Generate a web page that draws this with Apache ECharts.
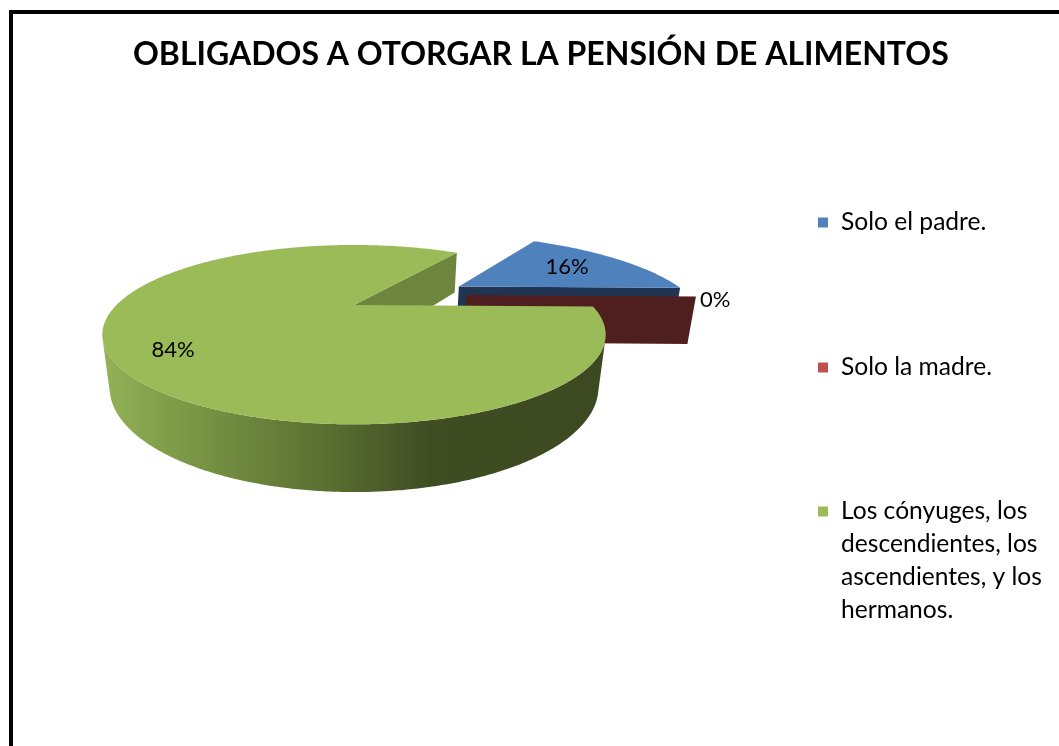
<!DOCTYPE html>
<html>
<head>
<meta charset="utf-8">
<script src="https://cdn.jsdelivr.net/npm/echarts@6/dist/echarts.min.js"></script>
<style>
html, body { margin: 0; padding: 0; background: #fff; }
#chart { width: 1059px; height: 746px; }
.frame { position: absolute; left: 9px; top: 10px; right: 0; bottom: 0;
         border-top: 4px solid #000; border-left: 4px solid #000; pointer-events: none; }
</style>
</head>
<body>
<div id="chart"></div>
<div class="frame"></div>
<script>
// --- data ---
var titleText = 'OBLIGADOS A OTORGAR LA PENSIÓN DE ALIMENTOS';
var categories = ['Solo el padre.', 'Solo la madre.', 'Los cónyuges, los descendientes, los ascendientes, y los hermanos.'];
var values = [16, 0, 84];
var legendLabels = ['Solo el padre.', 'Solo la madre.', 'Los cónyuges, los\ndescendientes, los\nascendientes, y los\nhermanos.'];

// --- styles ---
var legendColors = ['#4f81bd', '#c0504d', '#9bbb59'];
var topColors = ['#4f81bd', '#c0504d', '#9bbb59'];
var cutColors = ['#1f3552', '#4f1f1f', '#6e853e'];
var rimStops = [
    [[0, '#3b5f8c'], [1, '#2a4466']],
    [[0, '#7a2f2d'], [1, '#4f1f1f']],
    [[0, '#93b257'], [0.15, '#7d9a47'], [0.45, '#5a6e31'], [0.65, '#3f4d23'], [1, '#3d4a21']]
];
var explode = [0.54, 0.51, 0];
var explodeShift = [0, 16, 0];   // degrees
var labelR = [0.66, 0, 0.8];
var labelShift = [0, 0, 9];       // degrees

// --- 3d projection ---
var CX = 354, CY = 305, F = 677, D = 2.85, H = 0.225;
var TILT = 0.343;
var sinT = Math.sin(TILT), cosT = Math.cos(TILT);
var CAM = [0, D * sinT, -D * cosT];
var START_ANGLE = 56.5;

function project(x, y, z) {
    var v = y * cosT + z * sinT;
    var w = -y * sinT + z * cosT;
    var k = F / (D + w);
    return [CX + x * k, CY - v * k];
}
function rad(d) { return d * Math.PI / 180; }

var total = values.reduce(function (a, b) { return a + b; }, 0);

function sliceInfo(i) {
    var before = 0;
    for (var j = 0; j < i; j++) before += values[j];
    var a0 = START_ANGLE - before / total * 360;
    var a1 = a0 - values[i] / total * 360;
    var mid = (a0 + a1) / 2;
    var ea = rad(mid + explodeShift[i]);
    return { a0: a0, a1: a1, mid: mid, ox: explode[i] * Math.cos(ea), oz: explode[i] * Math.sin(ea) };
}

// back slices first
var order = values.map(function (v, i) { return i; }).sort(function (a, b) {
    return sliceInfo(b).oz - sliceInfo(a).oz;
});

function renderItem(params, api) {
    var i = params.seriesIndex;
    var value = api.value(0);
    var s = sliceInfo(i);
    var base = order.indexOf(i) * 10;
    var children = [];

    function rimAt(a, y) { return project(s.ox + Math.cos(rad(a)), y, s.oz + Math.sin(rad(a))); }
    function apex(y) { return project(s.ox, y, s.oz); }

    // cut faces
    function cutFace(a, na) {
        var px = s.ox + 0.5 * Math.cos(rad(a)), pz = s.oz + 0.5 * Math.sin(rad(a));
        var dot = Math.cos(rad(na)) * (CAM[0] - px) + Math.sin(rad(na)) * (CAM[2] - pz);
        if (dot <= 0) return;
        children.push({
            type: 'polygon',
            shape: { points: [apex(0), rimAt(a, 0), rimAt(a, -H), apex(-H)] },
            style: { fill: cutColors[i] },
            z2: base + 1
        });
    }
    cutFace(s.a0, s.a0 + 90);
    cutFace(s.a1, s.a1 - 90);

    if (value > 0) {
        var steps = Math.ceil(Math.abs(s.a0 - s.a1) * 2);
        var angs = [];
        for (var k = 0; k <= steps; k++) angs.push(s.a0 + (s.a1 - s.a0) * k / steps);

        // outer side, only the parts facing the camera
        var runs = [], cur = null;
        angs.forEach(function (a) {
            var c = Math.cos(rad(a)), sn = Math.sin(rad(a));
            var dot = c * (CAM[0] - (s.ox + c)) + sn * (CAM[2] - (s.oz + sn));
            if (dot > 0) {
                if (!cur) { cur = []; runs.push(cur); }
                cur.push(a);
            } else cur = null;
        });
        runs.forEach(function (run) {
            if (run.length < 2) return;
            var pts = run.map(function (a) { return rimAt(a, 0); });
            var bot = run.map(function (a) { return rimAt(a, -H); }).reverse();
            children.push({
                type: 'polygon',
                shape: { points: pts.concat(bot) },
                style: {
                    fill: new echarts.graphic.LinearGradient(0, 0, 1, 0,
                        rimStops[i].map(function (st) { return { offset: st[0], color: st[1] }; }))
                },
                z2: base + 2
            });
        });

        // top face
        children.push({
            type: 'polygon',
            shape: { points: [apex(0)].concat(angs.map(function (a) { return rimAt(a, 0); })) },
            style: { fill: topColors[i] },
            z2: base + 3
        });
    }

    // label
    var pct = Math.round(value / total * 100) + '%';
    var lp, align;
    if (value > 0) {
        var la = rad(s.mid + labelShift[i]);
        lp = project(s.ox + labelR[i] * Math.cos(la), 0, s.oz + labelR[i] * Math.sin(la));
        align = 'center';
    } else {
        lp = rimAt(s.mid, 0);
        lp = [lp[0] + 4, lp[1] + 4];
        align = 'left';
    }
    children.push({
        type: 'text',
        style: {
            text: pct, x: lp[0], y: lp[1], fill: '#000',
            font: '22px Lato', align: align, verticalAlign: 'middle'
        },
        z2: 100
    });

    return { type: 'group', children: children };
}

var chart = echarts.init(document.getElementById('chart'));

var series = categories.map(function (name, i) {
    return {
        type: 'custom',
        name: name,
        coordinateSystem: 'none',
        silent: true,
        itemStyle: { color: legendColors[i] },
        renderItem: renderItem,
        data: [values[i]]
    };
});

var legendText = {
    fontFamily: 'Lato', fontSize: 24.6, color: '#000', lineHeight: 33
};
function legendFormatter(name) {
    return legendLabels[categories.indexOf(name)];
}

chart.setOption({
    backgroundColor: '#fff',
    animation: false,
    title: {
        text: titleText,
        left: 133,
        top: 36,
        padding: 0,
        textStyle: { fontFamily: 'Lato', fontWeight: 'bold', fontSize: 32, color: '#000', lineHeight: 38 }
    },
    legend: [{
        orient: 'vertical',
        left: 818,
        top: 206,
        padding: 0,
        itemWidth: 18,
        itemHeight: 10,
        itemGap: 112,
        icon: 'path://M0,0h10v10h-10zM18,0',
        selectedMode: false,
        data: categories.slice(0, 2),
        formatter: legendFormatter,
        textStyle: legendText
    }, {
        orient: 'vertical',
        left: 818,
        top: 495,
        padding: 0,
        itemWidth: 18,
        itemHeight: 132,
        icon: 'path://M0,0M0,11.5h10v10h-10zM18,132',
        selectedMode: false,
        data: categories.slice(2),
        formatter: legendFormatter,
        textStyle: legendText
    }],
    series: series
});
</script>
</body>
</html>
